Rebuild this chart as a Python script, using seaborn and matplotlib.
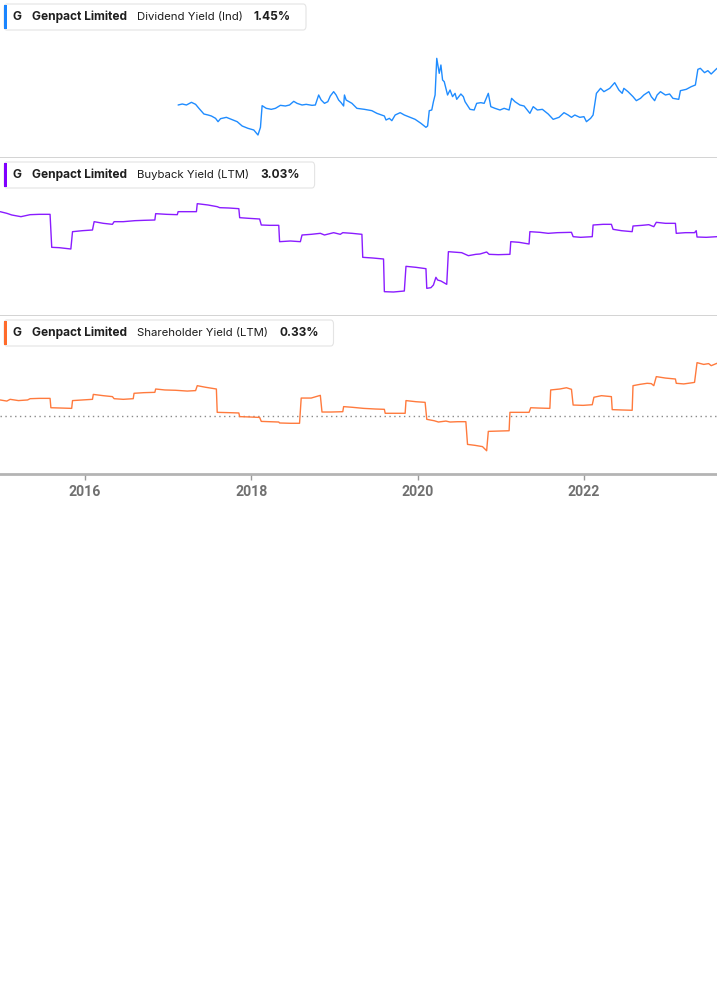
import matplotlib.pyplot as plt
import matplotlib.patches as mpatches
import seaborn as sns
import pandas as pd

# Canvas size in pixels (saved at dpi=100)
W, H = 717, 1005
sns.set_style('white')
plt.rcParams['font.family'] = ['Inter', 'DejaVu Sans']

X_MIN, X_MAX = 2014.978, 2023.60
YEAR_TICKS = [2016, 2018, 2020, 2022]
TICKER = 'G'
COMPANY = 'Genpact Limited'

# ---------------------------------------------------------------------------
# Data (decimal year, yield in %)
# ---------------------------------------------------------------------------
div_years = [
    2017.12, 2017.17, 2017.22, 2017.28, 2017.33, 2017.37, 2017.43, 2017.48, 2017.52, 2017.57,
    2017.60, 2017.63, 2017.70, 2017.76, 2017.83, 2017.89, 2017.96, 2018.03, 2018.08, 2018.11,
    2018.13, 2018.18, 2018.24, 2018.29, 2018.35, 2018.41, 2018.46, 2018.51, 2018.55, 2018.61,
    2018.66, 2018.73, 2018.77, 2018.81, 2018.84, 2018.88, 2018.92, 2018.95, 2018.99, 2019.02,
    2019.05, 2019.08, 2019.11, 2019.12, 2019.14, 2019.21, 2019.27, 2019.36, 2019.45, 2019.51,
    2019.60, 2019.62, 2019.66, 2019.69, 2019.73, 2019.79, 2019.84, 2019.91, 2019.97, 2020.04,
    2020.10, 2020.12, 2020.14, 2020.17, 2020.19, 2020.21, 2020.23, 2020.26, 2020.28, 2020.30,
    2020.32, 2020.36, 2020.39, 2020.42, 2020.45, 2020.47, 2020.52, 2020.55, 2020.57, 2020.63,
    2020.68, 2020.71, 2020.76, 2020.80, 2020.85, 2020.88, 2020.93, 2020.99, 2021.04, 2021.10,
    2021.13, 2021.17, 2021.23, 2021.28, 2021.35, 2021.39, 2021.44, 2021.50, 2021.57, 2021.63,
    2021.70, 2021.76, 2021.81, 2021.85, 2021.89, 2021.95, 2022.00, 2022.03, 2022.08, 2022.11,
    2022.15, 2022.20, 2022.24, 2022.31, 2022.37, 2022.42, 2022.46, 2022.48, 2022.53, 2022.59,
    2022.63, 2022.68, 2022.72, 2022.78, 2022.81, 2022.85, 2022.88, 2022.92, 2022.98, 2023.03,
    2023.07, 2023.14, 2023.16, 2023.23, 2023.29, 2023.34, 2023.37, 2023.40, 2023.45, 2023.49,
    2023.53, 2023.58, 2023.60,
]
div_values = [
    1.010, 1.022, 1.010, 1.042, 1.018, 0.970, 0.902, 0.890, 0.878, 0.850,
    0.810, 0.846, 0.862, 0.838, 0.810, 0.758, 0.730, 0.710, 0.650, 0.742,
    1.002, 0.970, 0.958, 0.970, 1.006, 0.998, 1.010, 1.054, 1.030, 1.010,
    1.018, 1.006, 1.010, 1.130, 1.070, 1.030, 1.050, 1.118, 1.170, 1.130,
    1.070, 1.038, 0.998, 1.130, 1.070, 1.030, 0.970, 0.958, 0.942, 0.910,
    0.878, 0.830, 0.850, 0.822, 0.890, 0.918, 0.890, 0.862, 0.838, 0.790,
    0.742, 0.758, 0.942, 0.950, 1.050, 1.130, 1.570, 1.390, 1.490, 1.310,
    1.290, 1.130, 1.190, 1.110, 1.150, 1.078, 1.142, 1.110, 1.050, 0.958,
    0.950, 1.030, 1.038, 1.030, 1.150, 0.990, 0.970, 0.950, 0.970, 0.950,
    1.090, 1.050, 1.010, 0.998, 0.910, 0.990, 0.950, 0.958, 0.902, 0.838,
    0.862, 0.918, 0.890, 0.862, 0.890, 0.862, 0.870, 0.810, 0.850, 0.890,
    1.150, 1.210, 1.170, 1.210, 1.278, 1.190, 1.150, 1.210, 1.170, 1.110,
    1.062, 1.090, 1.130, 1.170, 1.110, 1.062, 1.130, 1.170, 1.130, 1.142,
    1.090, 1.078, 1.182, 1.198, 1.230, 1.250, 1.438, 1.450, 1.398, 1.422,
    1.382, 1.430, 1.450,
]

buyback_years = [
    2014.98, 2015.06, 2015.12, 2015.23, 2015.34, 2015.45, 2015.58, 2015.60, 2015.69, 2015.83,
    2015.85, 2015.97, 2016.09, 2016.11, 2016.22, 2016.33, 2016.35, 2016.46, 2016.60, 2016.71,
    2016.84, 2016.85, 2016.98, 2017.11, 2017.12, 2017.23, 2017.34, 2017.35, 2017.48, 2017.59,
    2017.62, 2017.73, 2017.85, 2017.86, 2017.97, 2018.10, 2018.12, 2018.22, 2018.33, 2018.34,
    2018.47, 2018.59, 2018.61, 2018.72, 2018.83, 2018.88, 2018.99, 2019.07, 2019.10, 2019.21,
    2019.33, 2019.34, 2019.46, 2019.59, 2019.60, 2019.71, 2019.84, 2019.86, 2019.98, 2020.10,
    2020.11, 2020.16, 2020.19, 2020.22, 2020.24, 2020.28, 2020.35, 2020.37, 2020.42, 2020.53,
    2020.61, 2020.70, 2020.75, 2020.83, 2020.86, 2020.97, 2021.11, 2021.12, 2021.22, 2021.34,
    2021.35, 2021.47, 2021.57, 2021.68, 2021.85, 2021.87, 2021.96, 2022.10, 2022.11, 2022.23,
    2022.33, 2022.35, 2022.45, 2022.58, 2022.59, 2022.70, 2022.78, 2022.84, 2022.87, 2022.98,
    2023.10, 2023.11, 2023.22, 2023.33, 2023.35, 2023.36, 2023.47, 2023.60,
]
buyback_values = [
    4.033, 3.967, 3.900, 3.833, 3.913, 3.927, 3.927, 2.607, 2.593, 2.540,
    3.233, 3.273, 3.300, 3.633, 3.567, 3.527, 3.633, 3.633, 3.673, 3.687,
    3.700, 3.953, 3.927, 3.913, 4.033, 4.033, 4.033, 4.353, 4.300, 4.233,
    4.193, 4.180, 4.153, 3.793, 3.767, 3.740, 3.500, 3.487, 3.487, 2.833,
    2.860, 2.833, 3.100, 3.127, 3.167, 3.100, 3.193, 3.127, 3.193, 3.167,
    3.127, 2.207, 2.180, 2.140, 0.833, 0.820, 0.860, 1.847, 1.807, 1.753,
    0.967, 0.993, 1.100, 1.407, 1.300, 1.260, 1.127, 2.433, 2.420, 2.393,
    2.273, 2.327, 2.340, 2.420, 2.327, 2.313, 2.327, 2.833, 2.807, 2.740,
    3.233, 3.207, 3.167, 3.193, 3.207, 3.033, 3.007, 3.033, 3.500, 3.527,
    3.527, 3.327, 3.273, 3.233, 3.460, 3.487, 3.513, 3.433, 3.607, 3.567,
    3.567, 3.167, 3.193, 3.193, 3.273, 3.020, 3.007, 3.033,
]

sh_years = [
    2014.98, 2015.06, 2015.10, 2015.20, 2015.31, 2015.34, 2015.45, 2015.58, 2015.59, 2015.72,
    2015.84, 2015.85, 2015.97, 2016.09, 2016.10, 2016.22, 2016.33, 2016.35, 2016.46, 2016.58,
    2016.59, 2016.71, 2016.84, 2016.85, 2016.96, 2017.09, 2017.23, 2017.33, 2017.35, 2017.45,
    2017.58, 2017.59, 2017.73, 2017.85, 2017.86, 2017.97, 2018.10, 2018.12, 2018.22, 2018.33,
    2018.34, 2018.47, 2018.58, 2018.60, 2018.72, 2018.83, 2018.85, 2018.96, 2019.10, 2019.11,
    2019.21, 2019.35, 2019.49, 2019.60, 2019.61, 2019.73, 2019.85, 2019.86, 2019.98, 2020.09,
    2020.11, 2020.20, 2020.25, 2020.34, 2020.39, 2020.48, 2020.58, 2020.60, 2020.69, 2020.78,
    2020.83, 2020.85, 2020.97, 2021.10, 2021.11, 2021.24, 2021.34, 2021.36, 2021.46, 2021.59,
    2021.60, 2021.71, 2021.79, 2021.85, 2021.87, 2021.99, 2022.10, 2022.12, 2022.21, 2022.33,
    2022.34, 2022.45, 2022.58, 2022.59, 2022.67, 2022.76, 2022.81, 2022.84, 2022.87, 2022.98,
    2023.10, 2023.11, 2023.20, 2023.31, 2023.33, 2023.36, 2023.44, 2023.50, 2023.53, 2023.60,
]
sh_values = [
    0.099, 0.092, 0.103, 0.095, 0.099, 0.107, 0.109, 0.109, 0.050, 0.048,
    0.046, 0.095, 0.099, 0.103, 0.134, 0.126, 0.120, 0.107, 0.103, 0.107,
    0.141, 0.145, 0.147, 0.168, 0.162, 0.160, 0.155, 0.158, 0.189, 0.179,
    0.168, 0.021, 0.019, 0.017, -0.006, -0.008, -0.011, -0.036, -0.038, -0.040,
    -0.046, -0.048, -0.048, 0.111, 0.111, 0.128, 0.023, 0.023, 0.025, 0.057,
    0.053, 0.046, 0.042, 0.040, 0.015, 0.015, 0.015, 0.095, 0.088, 0.084,
    -0.023, -0.032, -0.040, -0.034, -0.040, -0.038, -0.038, -0.181, -0.187, -0.195,
    -0.221, -0.099, -0.097, -0.095, 0.021, 0.021, 0.021, 0.050, 0.048, 0.046,
    0.162, 0.168, 0.176, 0.166, 0.067, 0.065, 0.069, 0.116, 0.126, 0.120,
    0.038, 0.036, 0.034, 0.189, 0.197, 0.204, 0.202, 0.189, 0.246, 0.237,
    0.231, 0.204, 0.200, 0.208, 0.210, 0.334, 0.323, 0.328, 0.315, 0.330,
]

panels = [
    dict(metric='Dividend Yield (Ind)', last='1.45%', line='#1f8cff', bar='#1a85ff',
         years=div_years, values=div_values, ylim=(0.374, 2.27), zero=False),
    dict(metric='Buyback Yield (LTM)', last='3.03%', line='#8a1cff', bar='#8000ff',
         years=buyback_years, values=buyback_values, ylim=(-0.14, 6.18), zero=False),
    dict(metric='Shareholder Yield (LTM)', last='0.33%', line='#ff7a3d', bar='#ff6b2b',
         years=sh_years, values=sh_values, ylim=(-0.3675, 0.628), zero=True),
]

PANEL_H = 158
LEGEND_FS = 8.6

fig = plt.figure(figsize=(W / 100, H / 100), dpi=100)
renderer = fig.canvas.get_renderer()


def draw_legend(top_px, p):
    """Boxed series label in the top-left corner of a panel."""
    y = 1 - (top_px + 17) / H
    txt_kw = dict(va='center', color='#1e1e1e', zorder=6)
    fig.text(13 / W, y, TICKER, weight='bold', fontsize=LEGEND_FS, **txt_kw)
    fig.text(32 / W, y, COMPANY, weight='bold', fontsize=LEGEND_FS, **txt_kw)
    t_metric = fig.text(137 / W, y, p['metric'], fontsize=8.2, **txt_kw)
    x_end = t_metric.get_window_extent(renderer).x1
    t_val = fig.text((x_end + 11) / W, y, p['last'], weight='bold',
                     fontsize=LEGEND_FS, **txt_kw)
    right = t_val.get_window_extent(renderer).x1 + 15

    box = mpatches.FancyBboxPatch(
        (4 / W, 1 - (top_px + 30) / H), (right - 4) / W, 26 / H,
        boxstyle='round,pad=0,rounding_size=0.004', transform=fig.transFigure,
        fc='white', ec='#e4e4e4', lw=0.8, zorder=4)
    fig.add_artist(box)
    bar = mpatches.Rectangle(
        (4 / W, 1 - (top_px + 29) / H), 3 / W, 24 / H,
        transform=fig.transFigure, fc=p['bar'], ec='none', zorder=5)
    fig.add_artist(bar)


for i, p in enumerate(panels):
    top_px = i * PANEL_H
    ax = fig.add_axes([0, 1 - (top_px + PANEL_H) / H, 1, PANEL_H / H])
    df = pd.DataFrame({'year': p['years'], 'value': p['values']})
    sns.lineplot(data=df, x='year', y='value', ax=ax, color=p['line'],
                 lw=1.0, estimator=None, sort=False)
    if p['zero']:
        ax.axhline(0, color='#8a8a8a', lw=1.0, ls=(0, (1, 2.5)), zorder=1)

    ax.set_xlim(X_MIN, X_MAX)
    ax.set_ylim(*p['ylim'])
    ax.set_xlabel('')
    ax.set_ylabel('')
    ax.set_yticks([])
    for side in ['top', 'left', 'right']:
        ax.spines[side].set_visible(False)

    last = i == len(panels) - 1
    if last:
        ax.spines['bottom'].set_color('#b4b4b4')
        ax.spines['bottom'].set_linewidth(2.0)
        ax.set_xticks(YEAR_TICKS)
        ax.set_xticklabels([str(y) for y in YEAR_TICKS])
        ax.tick_params(axis='x', bottom=True, length=4, width=1, color='#9a9a9a',
                       pad=4, labelsize=10.2, labelcolor='#707070')
        for lbl in ax.get_xticklabels():
            lbl.set_family(['Roboto', 'DejaVu Sans'])
            lbl.set_fontweight('bold')
    else:
        ax.spines['bottom'].set_color('#cccccc')
        ax.spines['bottom'].set_linewidth(1.2)
        ax.set_xticks([])

    draw_legend(top_px, p)

fig.savefig('out.png', dpi=100)
plt.close(fig)
